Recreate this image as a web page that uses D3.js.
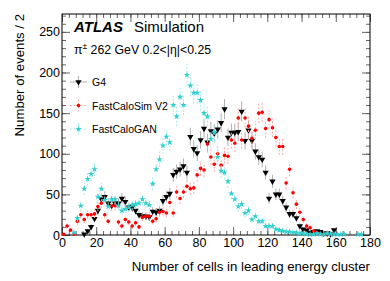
<!DOCTYPE html>
<html>
<head>
<meta charset="utf-8">
<script src="https://cdn.jsdelivr.net/npm/d3@7"></script>
<style>
  body { margin: 0; background: #fff; }
  svg { display: block; font-family: "Liberation Sans", Arial, sans-serif; }
</style>
</head>
<body>
<svg id="svg"></svg>
<script>
// bin centres, width 2
const binCentres = d3.range(1, 180, 2);

// counts per bin, null = empty bin
const g4Counts = [
  null, null, null, null, null, null, 1, 5, 10, 20,
  30, 44, 47, 39, 36, 39, 39, 45, 41, 34,
  34, 30, 25, 23, 23, 22, 29, 28, 30, 42,
  47, 51, 74, 78, 81, 85, 77, 121, 106, 101,
  117, 131, 114, 128, 125, 130, 138, 155, 120, 126,
  126, 127, 152, 116, 129, 116, 103, 96, 93, 77,
  45, 66, 50, 50, 42, 34, 26, 26, 21, 11,
  7, 6, 3, 4, 5, 4, 2, 2, 1, 6,
  null, null, null, null, null, null, null, null, null, null
];
const fcsCounts = [
  1, 11, 6, 1, 17, 25, 19, 25, 25, 26,
  35, 39, 25, 17, 36, 36, 16, 11, 19, 16,
  11, 15, 10, 22, 23, 23, 17, 20, 28, 29,
  27, 40, 27, 53, 45, 53, 60, 57, 58, 74,
  82, 80, 112, 96, 87, 100, 86, 98, 97, 117,
  113, 144, 117, 144, 134, 119, 129, 150, 151, 131,
  142, 132, 120, 109, 109, 64, 81, 52, 38, 28,
  19, 11, 9, 5, 3, 2, 1, 1, null, null,
  null, null, null, null, null, null, null, null, null, null
];
const ganCounts = [
  null, null, null, 3, 21, 36, 57, 69, 75, 81,
  47, 57, 43, 35, 44, 44, 36, 30, 32, 34,
  37, 38, 39, 44, 39, 37, 63, 81, 93, 110,
  121, 114, 160, 146, 170, 160, 197, 184, 175, 175,
  166, 150, 146, 118, 126, 96, 79, 77, 66, 51,
  44, 35, 38, 27, 30, 19, 23, 17, 17, 11,
  11, 11, 7, 6, 5, 4, 4, 3, 3, 2,
  2, 1, 1, 1, 2, 1, 1, 2, 1, 1,
  1, 1, 1, null, null, null, 1, 1, null, null
];

const xTicks = [0, 20, 40, 60, 80, 100, 120, 140, 160, 180];
const yTicks = [0, 50, 100, 150, 200, 250];
const legendNames = ["G4", "FastCaloSim V2", "FastCaloGAN"];

const width = 390;
const height = 281;
const margin = { top: 14, right: 20, bottom: 46, left: 62 };

let svg = d3.select("#svg").attr("width", width).attr("height", height);

let xScale = d3.scaleLinear().domain([0, 180]).range([margin.left, width - margin.right]);
let yScale = d3.scaleLinear().domain([0, 272]).range([height - margin.bottom, margin.top]);

const series = [
  { name: legendNames[0], counts: g4Counts, color: "#000", errColor: "#b0b0b0", dash: null, shape: "tri" },
  { name: legendNames[1], counts: fcsCounts, color: "#ff0000", errColor: "#ffa8a8", dash: "2,1.5", shape: "circle" },
  { name: legendNames[2], counts: ganCounts, color: "#30cfcf", errColor: "#a8ecec", dash: "2,1.5", shape: "star" }
];

function drawMarker(g, shape, color) {
  if (shape === "tri") {
    g.append("path")
      .attr("d", d3.symbol(d3.symbolTriangle, 17)())
      .attr("transform", "rotate(180)")
      .attr("fill", color);
  } else if (shape === "circle") {
    g.append("circle").attr("r", 1.8).attr("fill", color);
  } else {
    g.append("path")
      .attr("d", d3.symbol(d3.symbolStar, 13)())
      .attr("fill", color);
  }
}

// axes: ticks point inwards on all four sides
function addAxis(axisFn, scale, pos, values, size, labels) {
  let ax = axisFn(scale).tickValues(values).tickSizeInner(-size).tickSizeOuter(0);
  if (labels) {
    ax.tickPadding(labels).tickFormat(d3.format("d"));
  } else {
    ax.tickFormat("");
  }
  let g = svg.append("g").attr("transform", pos).call(ax);
  g.select(".domain").remove();
  g.selectAll(".tick line").attr("stroke", "#666");
  g.selectAll("text").attr("fill", "#000").style("font-size", "12.5px")
    .style("font-family", "'Liberation Sans', Arial, sans-serif");
  return g;
}

const x0 = margin.left, x1 = width - margin.right;
const y0 = height - margin.bottom, y1 = margin.top;
const xMinor = d3.range(0, 181, 4);
const yMinor = d3.range(0, 271, 10);

addAxis(d3.axisBottom, xScale, `translate(0,${y0})`, xMinor, 4, 0);
addAxis(d3.axisBottom, xScale, `translate(0,${y0})`, xTicks, 8, 3);
addAxis(d3.axisTop, xScale, `translate(0,${y1})`, xMinor, 4, 0);
addAxis(d3.axisTop, xScale, `translate(0,${y1})`, xTicks, 8, 0);
addAxis(d3.axisLeft, yScale, `translate(${x0},0)`, yMinor, 4, 0);
addAxis(d3.axisLeft, yScale, `translate(${x0},0)`, yTicks, 8, 2);
addAxis(d3.axisRight, yScale, `translate(${x1},0)`, yMinor, 4, 0);
addAxis(d3.axisRight, yScale, `translate(${x1},0)`, yTicks, 8, 0);

// frame
svg.append("rect")
  .attr("x", x0).attr("y", y1)
  .attr("width", x1 - x0).attr("height", y0 - y1)
  .attr("fill", "none").attr("stroke", "#000").attr("stroke-width", 1);

// data points with sqrt(N) error bars
for (const s of series) {
  const pts = binCentres.map((c, i) => ({ x: c, n: s.counts[i] })).filter(d => d.n !== null && d.n > 0);
  const g = svg.append("g");
  g.selectAll(".err")
    .data(pts)
    .join("line")
    .attr("x1", d => xScale(d.x)).attr("x2", d => xScale(d.x))
    .attr("y1", d => yScale(Math.max(0, d.n - Math.sqrt(d.n))))
    .attr("y2", d => yScale(d.n + Math.sqrt(d.n)))
    .attr("stroke", s.errColor)
    .attr("stroke-width", 1)
    .attr("stroke-dasharray", s.dash);
  const m = g.selectAll(".mk")
    .data(pts)
    .join("g")
    .attr("transform", d => `translate(${xScale(d.x)},${yScale(d.n)})`);
  m.each(function() { drawMarker(d3.select(this), s.shape, s.color); });
}

// labels
svg.append("text")
  .attr("x", 74).attr("y", 32)
  .style("font-size", "15px").style("font-weight", "bold").style("font-style", "italic")
  .text("ATLAS");
svg.append("text")
  .attr("x", 134).attr("y", 32)
  .style("font-size", "15px")
  .text("Simulation");

let info = svg.append("text").attr("x", 74).attr("y", 54).style("font-size", "12.3px");
info.append("tspan").text("π");
info.append("tspan").attr("dy", -5).style("font-size", "8.5px").text("±");
info.append("tspan").attr("dy", 5).text(" 262 GeV 0.2<|η|<0.25");

// legend
series.forEach((s, i) => {
  const ly = 82 + i * 23.5;
  const lg = svg.append("g");
  lg.append("line")
    .attr("x1", 70).attr("x2", 87).attr("y1", ly).attr("y2", ly)
    .attr("stroke", s.errColor).attr("stroke-dasharray", s.dash);
  lg.append("line")
    .attr("x1", 78.5).attr("x2", 78.5).attr("y1", ly - 6).attr("y2", ly + 6)
    .attr("stroke", s.errColor).attr("stroke-dasharray", s.dash);
  const mk = lg.append("g").attr("transform", `translate(78.5,${ly})`);
  drawMarker(mk, s.shape, s.color);
  lg.append("text")
    .attr("x", 92).attr("y", ly + 4)
    .style("font-size", "10.5px")
    .text(s.name);
});

// axis titles
svg.append("text")
  .attr("x", x1).attr("y", 270.5)
  .attr("text-anchor", "end")
  .style("font-size", "13.2px")
  .text("Number of cells in leading energy cluster");
svg.append("text")
  .attr("transform", `translate(24,${y1}) rotate(-90)`)
  .attr("text-anchor", "end")
  .style("font-size", "13.2px")
  .text("Number of events / 2");
</script>
</body>
</html>
